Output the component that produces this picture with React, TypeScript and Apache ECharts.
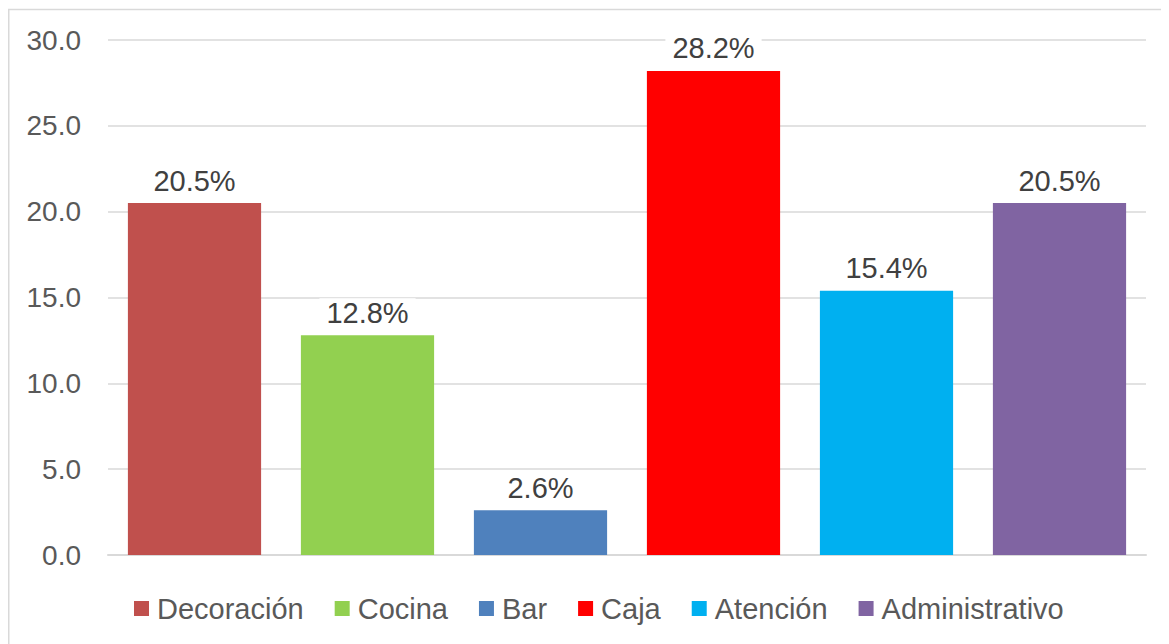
import React, { useEffect, useRef } from "react";
import * as echarts from "echarts";

const categories = ["Decoración", "Cocina", "Bar", "Caja", "Atención", "Administrativo"];
const values = [20.5, 12.8, 2.6, 28.2, 15.4, 20.5];
const colors = ["#C0504D", "#92D050", "#4F81BD", "#FF0000", "#00B0F0", "#8064A2"];
const yTicks = { min: 0, max: 30, interval: 5 };

const FONT = "'Liberation Sans', Arial, sans-serif";

export default function App() {
  const ref = useRef<HTMLDivElement>(null);
  useEffect(() => {
    if (!ref.current) return;
    const chart = echarts.init(ref.current, null, { renderer: "svg" });
    const series = categories.map((name, i) => ({
      name,
      type: "bar",
      stack: "total",
      barCategoryGap: "23%",
      itemStyle: { color: colors[i] },
      data: categories.map((_, j) => (j === i ? values[i] : "-")),
      label: {
        show: true,
        position: "top",
        distance: 8,
        formatter: (p: any) => Number(p.value).toFixed(1) + "%",
        color: "#404040",
        fontSize: 29,
        fontFamily: FONT,
        backgroundColor: "#ffffff",
        padding: [0, 7],
      },
    }));
    chart.setOption({
      animation: false,
      backgroundColor: "#ffffff",
      textStyle: { fontFamily: FONT },
      grid: { left: 100, right: 23, top: 32, bottom: 89, containLabel: false },
      xAxis: {
        type: "category",
        data: categories,
        axisLine: { show: true, lineStyle: { color: "#d9d9d9", width: 2 } },
        axisTick: { show: false },
        axisLabel: { show: false },
      },
      yAxis: {
        type: "value",
        min: yTicks.min,
        max: yTicks.max,
        interval: yTicks.interval,
        axisLine: { show: false },
        axisTick: { show: false },
        axisLabel: {
          formatter: (v: number) => v.toFixed(1),
          color: "#595959",
          fontSize: 28,
          fontFamily: FONT,
          margin: 27,
        },
        splitLine: { lineStyle: { color: "#d9d9d9", width: 1.5 } },
      },
      legend: {
        data: categories.map((c) => ({ name: c, icon: "rect" })),
        bottom: 16,
        left: 121,
        itemWidth: 15,
        itemHeight: 15,
        itemGap: 31,
        textStyle: { color: "#595959", fontSize: 29, fontFamily: FONT, padding: [0, 0, 0, 3] },
      },
      graphic: [
        {
          type: "polyline",
          shape: { points: [[0.75, 640], [0.75, 1.5], [1170, 1.5]] },
          style: { stroke: "#d9d9d9", lineWidth: 1.5, fill: "none" },
          silent: true,
        },
      ],
      series,
    });
    return () => chart.dispose();
  }, []);
  return <div ref={ref} style={{ width: 1161, height: 636 }} />;
}
